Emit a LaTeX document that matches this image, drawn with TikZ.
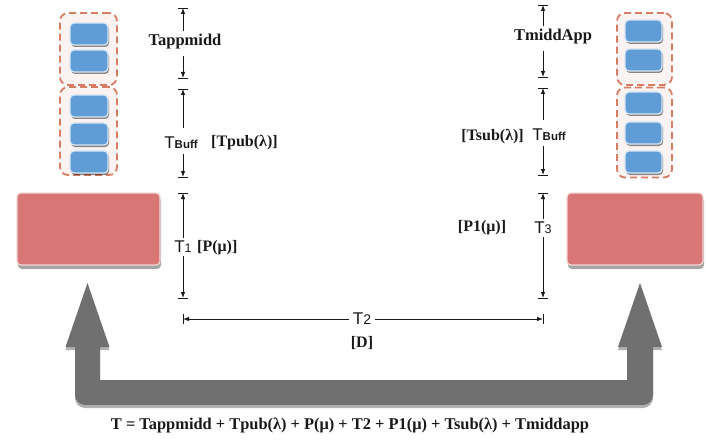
\documentclass[tikz,border=0pt]{standalone}
\usepackage{fontspec}
\setmainfont{Liberation Serif}
\newfontfamily\sansf{Liberation Sans}
\usetikzlibrary{arrows.meta,shadows}
\definecolor{boxred}{RGB}{217,119,119}
\definecolor{boxblue}{RGB}{96,156,214}
\definecolor{dashc}{RGB}{214,125,100}
\definecolor{ugray}{RGB}{112,112,112}
\definecolor{txt}{RGB}{25,25,25}
\begin{document}
\begin{tikzpicture}[x=1pt,y=-1pt,
  redbox/.style={fill=boxred, draw=white!70!boxred, line width=1.2pt, rounded corners=4pt, inner sep=0pt, outer sep=0pt,
    drop shadow={shadow xshift=1pt, shadow yshift=-4pt, opacity=0.35, fill=black}},
  dashbox/.style={draw=dashc, fill=dashc!9, dash pattern=on 7pt off 4pt, line width=1.8pt, rounded corners=8pt, inner sep=0pt, outer sep=0pt},
  bluebox/.style={fill=boxblue, draw=white!75!boxblue, line width=1.3pt, rounded corners=4pt, inner sep=0pt, outer sep=0pt,
    minimum height=22pt, drop shadow={shadow xshift=1pt, shadow yshift=-2pt, opacity=0.45, fill=black}},
  lbl/.style={font=\bfseries\fontsize{16.5}{18}\selectfont, text=txt, inner sep=3pt},
  slbl/.style={font=\bfseries\fontsize{16}{17}\selectfont, text=txt, inner sep=2pt},
  tlbl/.style={font=\sansf\fontsize{17}{18}\selectfont, text=txt, inner sep=3pt},
  dimarrow/.style={draw=txt, line width=0.8pt, -{Latex[length=6pt,width=4.5pt]}},
  tick/.style={draw=txt, line width=0.9pt}
]
\useasboundingbox (0,0) rectangle (706,441);

% big gray U arrow
\fill[ugray, drop shadow={shadow xshift=0pt, shadow yshift=-3pt, opacity=0.3, fill=black}]
  (87.5,283) -- (109.5,347) -- (100,347) -- (100,380) -- (627,380) -- (627,347) -- (618,347)
  -- (640,283) -- (662,347) -- (653,347) -- (653,395) arc[start angle=0, end angle=90, radius=10]
  -- (85,405) arc[start angle=90, end angle=180, radius=10] -- (75,347) -- (65.5,347) -- cycle;

% red boxes
\node[redbox, minimum width=143pt, minimum height=72pt] (redL) at (88.5,229) {};
\node[redbox, minimum width=136pt, minimum height=72pt] (redR) at (635,229) {};

% dashed buffer boxes
\node[dashbox, minimum width=57pt, minimum height=72pt] (dLt) at (88.5,49) {};
\node[dashbox, minimum width=57pt, minimum height=88pt] (dLb) at (88.5,131) {};
\node[dashbox, minimum width=55pt, minimum height=72pt] (dRt) at (644.5,49) {};
\node[dashbox, minimum width=55pt, minimum height=90pt] (dRb) at (644.5,132.5) {};

% blue boxes
\foreach \y [count=\i] in {34,61,106,134,162}
  \node[bluebox, minimum width=38pt] (bL\i) at (89,\y) {};
\foreach \y [count=\i] in {31,60,103,133,162}
  \node[bluebox, minimum width=37pt] (bR\i) at (643.5,\y) {};

% left dimension column
\coordinate (lt1) at (183,8);
\coordinate (lt2) at (183,78);
\coordinate (lt3) at (183,89);
\coordinate (lt4) at (183,177);
\coordinate (lt5) at (183,193);
\coordinate (lt6) at (183,298);
\foreach \c in {lt1,lt2,lt3,lt4,lt5,lt6}
  \draw[tick] (\c) ++(-5,0) -- ++(10,0);
\node[lbl] (lTapp) at (185,42) {Tappmidd};
\node[tlbl] (lBuff) at (181,143) {T{\fontsize{11.5}{12}\selectfont\bfseries Buff}};
\node[slbl, anchor=west] (lTpub) at (209,143) {[Tpub(λ)]};
\node[tlbl] (lT1) at (183,247) {T{\fontsize{12.5}{13}\selectfont 1}};
\node[slbl, anchor=west] (lP) at (195,248) {[P(μ)]};
\draw[dimarrow] (lTapp.north -| lt1) -- (lt1);
\draw[dimarrow] (lTapp.south -| lt2) ++(0,3) -- (lt2);
\draw[dimarrow] (lBuff.north -| lt3) ++(0,-6) -- (lt3);
\draw[dimarrow] (lBuff.south -| lt4) ++(0,2) -- (lt4);
\draw[dimarrow] (lT1.north -| lt5) -- (lt5);
\draw[dimarrow] (lT1.south -| lt6) -- (lt6);

% right dimension column
\coordinate (rt1) at (543,5);
\coordinate (rt2) at (543,77);
\coordinate (rt3) at (543,88);
\coordinate (rt4) at (543,175);
\coordinate (rt5) at (543,193);
\coordinate (rt6) at (543,298);
\foreach \c in {rt1,rt2,rt3,rt4,rt5,rt6}
  \draw[tick] (\c) ++(-5,0) -- ++(10,0);
\node[lbl] (rTmidd) at (553,37) {TmiddApp};
\node[tlbl] (rBuff) at (549,135) {T{\fontsize{11.5}{12}\selectfont\bfseries Buff}};
\node[slbl, anchor=east] (rTsub) at (526,137) {[Tsub(λ)]};
\node[tlbl] (rT3) at (543,228) {T{\fontsize{12.5}{13}\selectfont 3}};
\node[slbl] (rP1) at (482,228) {[P1(μ)]};
\draw[dimarrow] (rTmidd.north -| rt1) -- (rt1);
\draw[dimarrow] (rTmidd.south -| rt2) ++(0,3) -- (rt2);
\draw[dimarrow] (rBuff.north -| rt3) ++(0,-6) -- (rt3);
\draw[dimarrow] (rBuff.south -| rt4) ++(0,2) -- (rt4);
\draw[dimarrow] (rT3.north -| rt5) -- (rt5);
\draw[dimarrow] (rT3.south -| rt6) -- (rt6);

% horizontal T2
\coordinate (ht1) at (183,319);
\coordinate (ht2) at (543,319);
\foreach \c in {ht1,ht2}
  \draw[tick] (\c) ++(0,-5) -- ++(0,10);
\node[tlbl, inner sep=4pt] (hT2) at (362,319) {T{\fontsize{14}{14}\selectfont 2}};
\node[slbl] (hD) at (362,343) {[D]};
\draw[dimarrow] (hT2.west) -- (ht1);
\draw[dimarrow] (hT2.east) -- (ht2);

% equation
\node[lbl, font=\bfseries\fontsize{16.4}{18}\selectfont] (eq) at (350,425)
  {T = Tappmidd + Tpub(λ) + P(μ) + T2 + P1(μ) + Tsub(λ) + Tmiddapp};
\end{tikzpicture}
\end{document}
